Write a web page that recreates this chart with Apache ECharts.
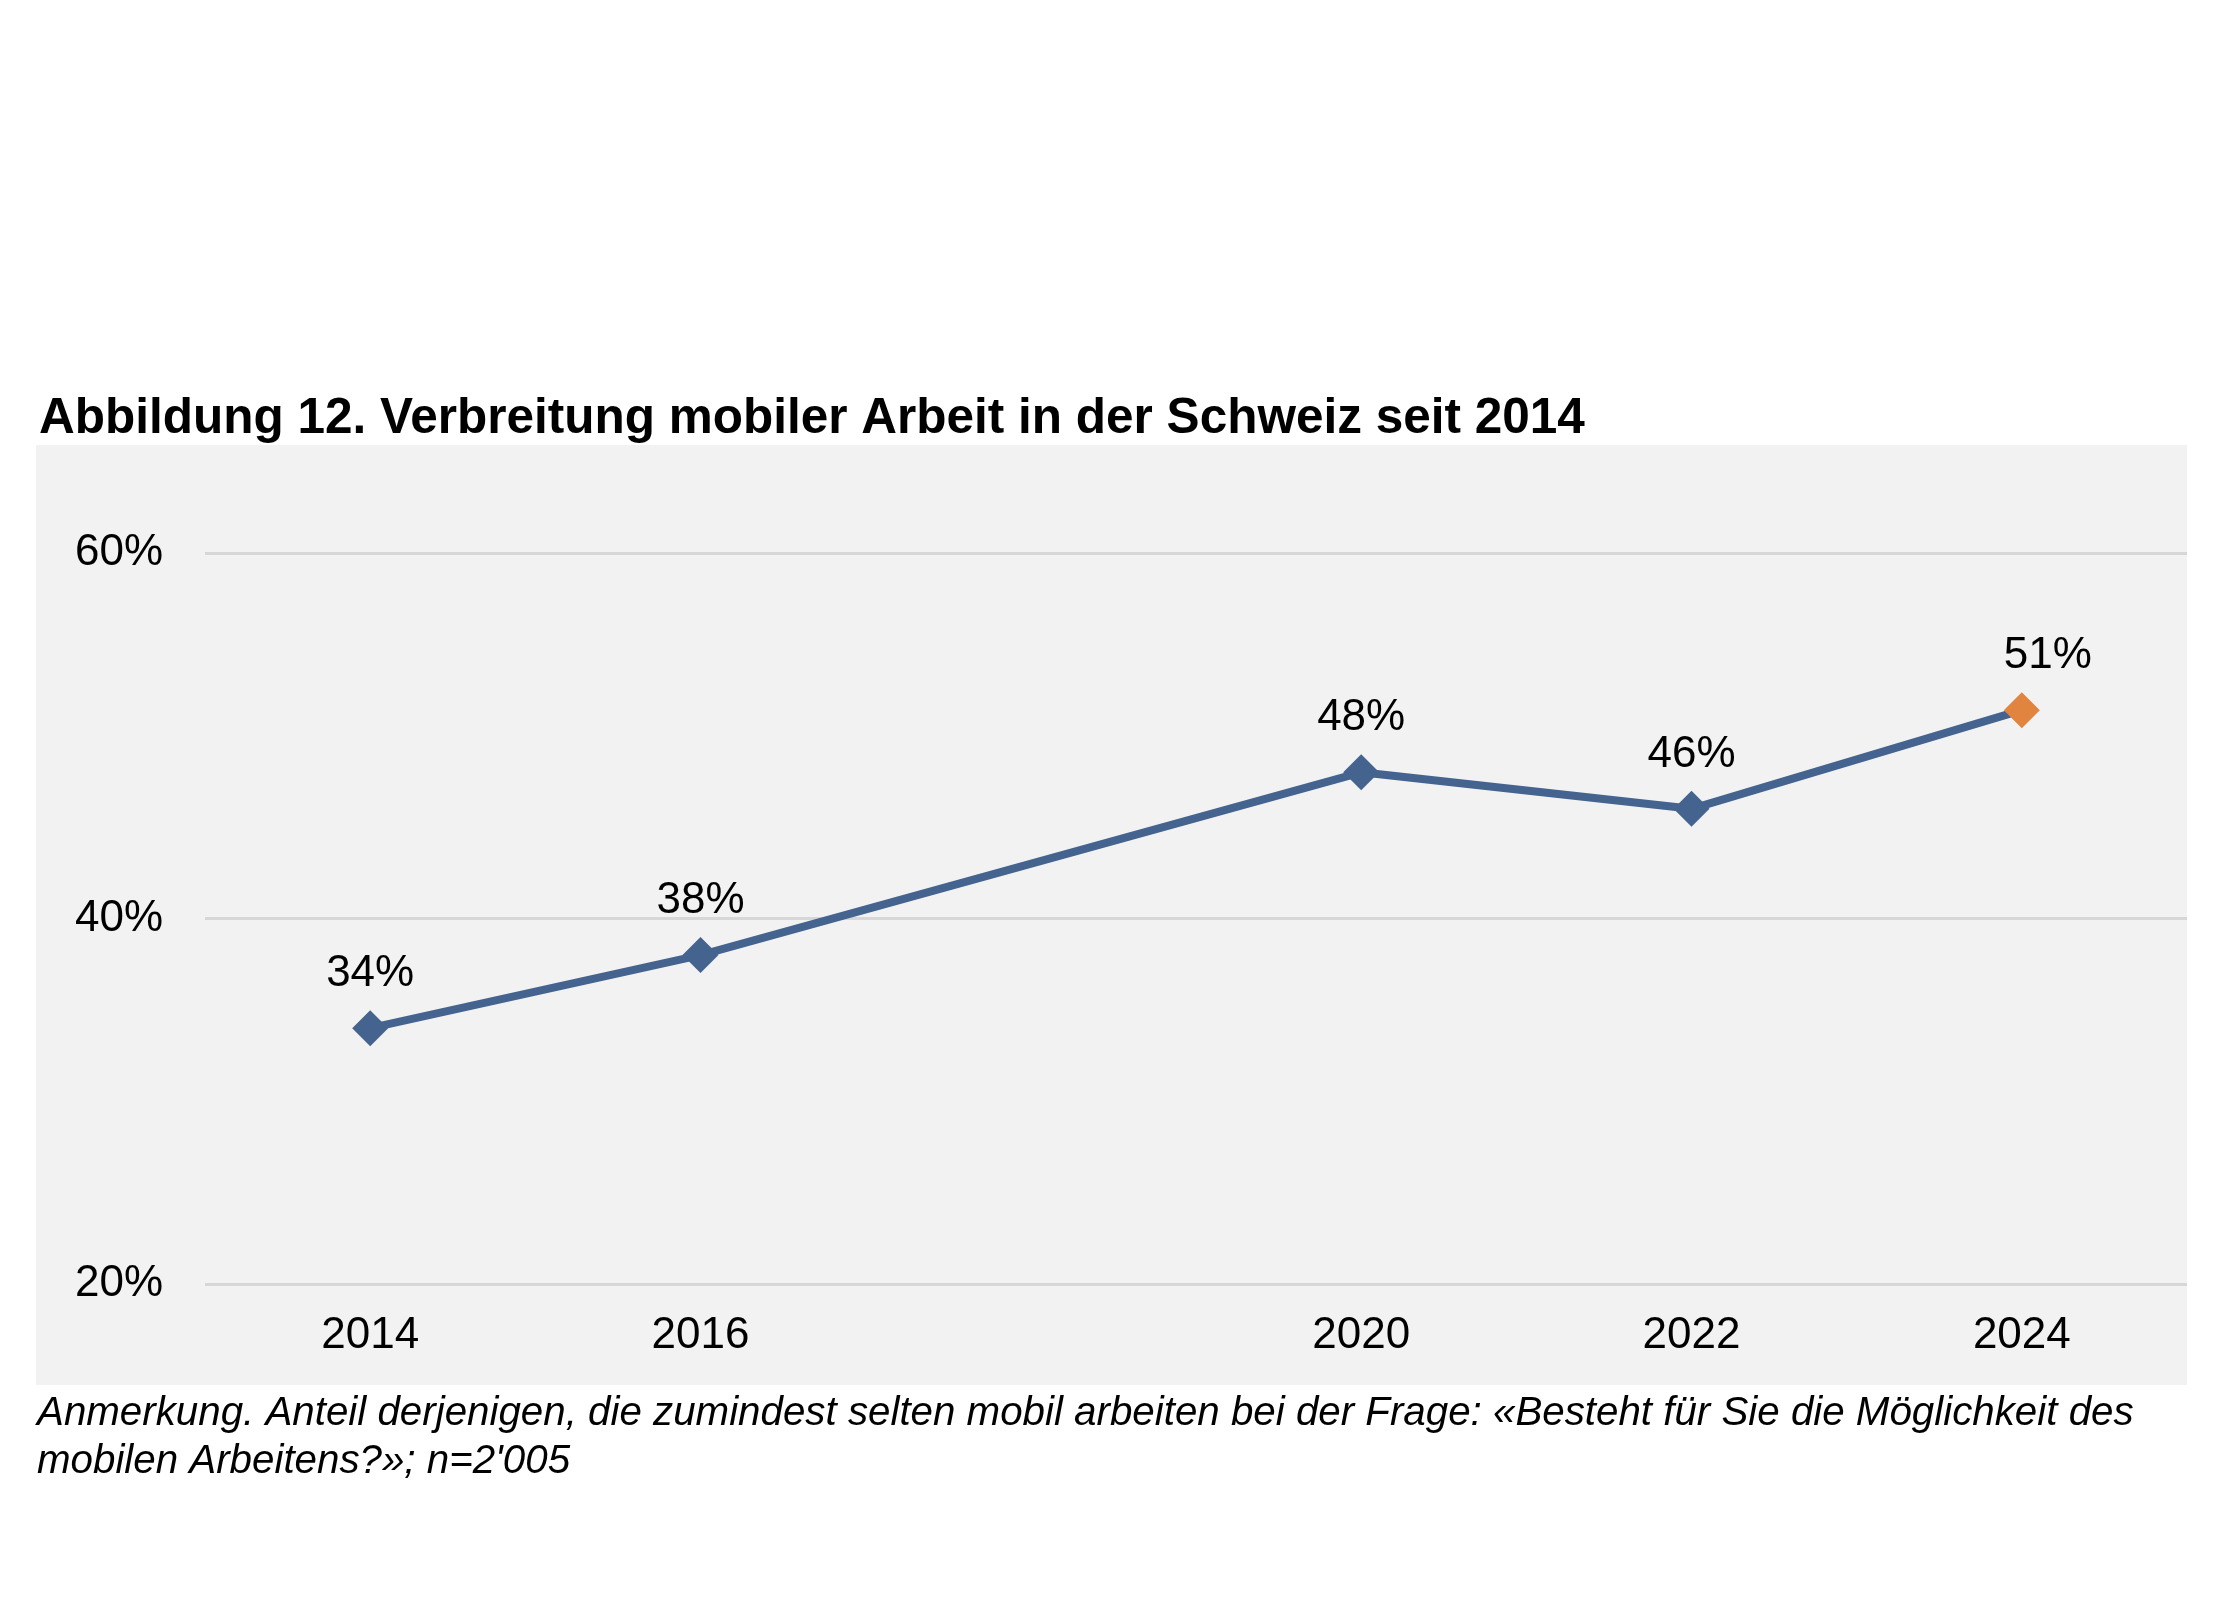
<!DOCTYPE html>
<html>
<head>
<meta charset="utf-8">
<script src="https://cdn.jsdelivr.net/npm/echarts@6/dist/echarts.min.js"></script>
<style>
  html,body{margin:0;padding:0;background:#fff;}
  #chart{width:2220px;height:1604px;}
</style>
</head>
<body>
<div id="chart"></div>
<script>
// data
const years = [2014, 2016, 2020, 2022, 2024];
const shares = [34, 38, 48, 46, 51.4];
const xLabels = [2014, 2016, 2020, 2022, 2024];
const yTicks = [20, 40, 60];

const titleText = 'Abbildung 12. Verbreitung mobiler Arbeit in der Schweiz seit 2014';
const noteLines = [
  'Anmerkung. Anteil derjenigen, die zumindest selten mobil arbeiten bei der Frage: «Besteht für Sie die Möglichkeit des',
  'mobilen Arbeitens?»; n=2\'005'
];

const blue = '#44638f';
const orange = '#e0843f';
const font = '"Liberation Sans", Arial, sans-serif';

let chart = echarts.init(document.getElementById('chart'), null, {renderer: 'canvas'});

let points = years.map((y, i) => {
  let last = i === years.length - 1;
  return {
    value: [y, shares[i]],
    itemStyle: {color: last ? orange : blue},
    label: last ? {offset: [26, 0]} : undefined
  };
});

chart.setOption({
  backgroundColor: '#ffffff',
  animation: false,
  title: {
    text: titleText,
    left: 34,
    top: 389,
    textStyle: {fontFamily: font, fontSize: 49.5, fontWeight: 'bold', color: '#000'}
  },
  graphic: [
    {
      type: 'rect', z: -10, silent: true,
      shape: {x: 36, y: 445, width: 2151, height: 940},
      style: {fill: '#f2f2f2'}
    },
    {
      type: 'text', left: 37, top: 1390, silent: true,
      style: {
        text: noteLines.join('\n'),
        font: 'italic 40.3px ' + font,
        lineHeight: 48,
        fill: '#000'
      }
    }
  ],
  grid: {left: 205, right: 33, top: 553, bottom: 320, containLabel: false},
  xAxis: {
    type: 'value',
    min: 2013, max: 2025, interval: 1,
    axisLine: {show: false},
    axisTick: {show: false},
    splitLine: {show: false},
    axisLabel: {
      margin: 30,
      fontFamily: font, fontSize: 44, color: '#000',
      formatter: v => xLabels.indexOf(v) >= 0 ? String(v) : ''
    }
  },
  yAxis: {
    type: 'value',
    min: yTicks[0], max: yTicks[yTicks.length - 1], interval: 20,
    axisLine: {show: false},
    axisTick: {show: false},
    splitLine: {lineStyle: {color: '#d7d7d7', width: 3}},
    axisLabel: {
      margin: 42,
      fontFamily: font, fontSize: 44, color: '#000',
      formatter: '{value}%'
    }
  },
  series: [{
    type: 'line',
    data: points,
    symbol: 'diamond',
    symbolSize: 36,
    lineStyle: {color: blue, width: 8},
    itemStyle: {color: blue},
    label: {
      show: true,
      position: 'top',
      distance: 14,
      fontFamily: font, fontSize: 44, color: '#000',
      formatter: p => Math.round(p.value[1]) + '%'
    }
  }]
});
</script>
</body>
</html>
